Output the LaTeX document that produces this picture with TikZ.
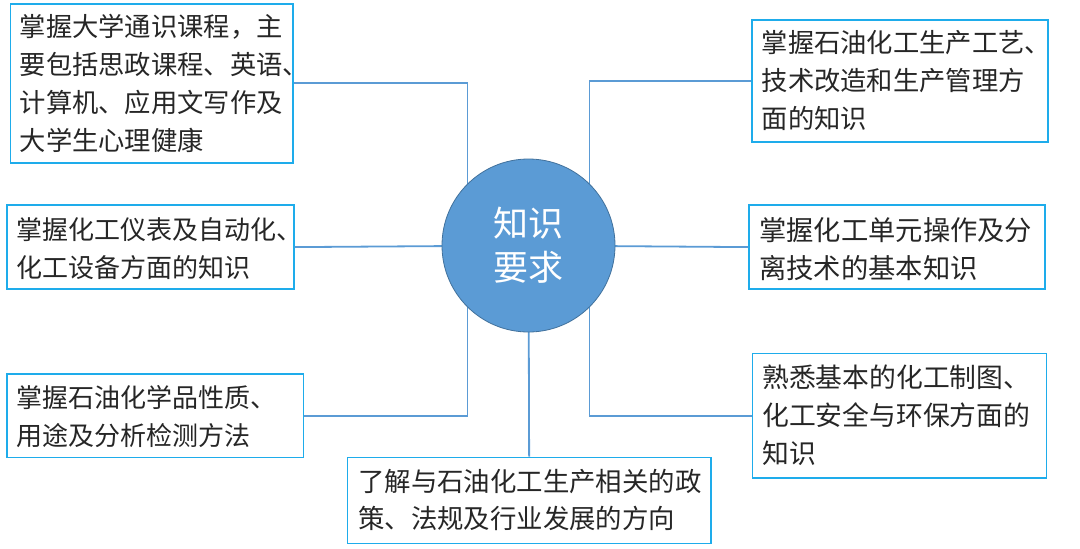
\documentclass[tikz,border=0pt]{standalone}
\usepackage{fontspec}
\setmainfont{Noto Sans CJK SC}
\definecolor{boxline}{RGB}{30,172,235}
\definecolor{conn}{RGB}{91,155,213}
\definecolor{cfill}{RGB}{91,155,213}
\definecolor{cedge}{RGB}{65,113,156}
\begin{document}
\begin{tikzpicture}[x=1pt,y=-1pt,
  box/.style={draw=boxline,line width=1.6pt,rectangle,inner sep=0pt,anchor=north west},
  txt/.style={anchor=north west,inner sep=0pt,align=left,text=black!85,font=\fontsize{26}{38}\selectfont},
  link/.style={draw=conn,line width=1.8pt}]
\useasboundingbox (0,0) rectangle (1080,549);
% boxes
\node[box,minimum width=282.5pt,minimum height=159pt] (tl) at (9.5,3) {};
\node[box,minimum width=287pt,minimum height=84pt] (ml) at (6,204.3) {};
\node[box,minimum width=296.7pt,minimum height=83.7pt] (bl) at (6,373) {};
\node[box,minimum width=363.3pt,minimum height=86pt] (bt) at (346.7,456.7) {};
\node[box,minimum width=296pt,minimum height=122pt] (tr) at (751,19) {};
\node[box,minimum width=295.7pt,minimum height=84pt] (mr) at (748.3,204.3) {};
\node[box,minimum width=294pt,minimum height=124.6pt] (br) at (751.7,352.7) {};
% texts
\node[txt,font=\fontsize{26.3}{38}\selectfont] (tlt) at (19.5,14) {掌握大学通识课程，主\\要包括思政课程、英语、\\计算机、应用文写作及\\大学生心理健康};
\node[txt] (mlt) at (16,217) {掌握化工仪表及自动化、\\化工设备方面的知识};
\node[txt] (blt) at (16,385.5) {掌握石油化学品性质、\\用途及分析检测方法};
\node[txt,font=\fontsize{26.4}{37}\selectfont] (btt) at (358,469) {了解与石油化工生产相关的政\\策、法规及行业发展的方向};
\node[txt,font=\fontsize{26.3}{38}\selectfont] (trt) at (761.5,30.5) {掌握石油化工生产工艺、\\技术改造和生产管理方\\面的知识};
\node[txt,font=\fontsize{27.3}{38}\selectfont] (mrt) at (759,217) {掌握化工单元操作及分\\离技术的基本知识};
\node[txt,font=\fontsize{26.8}{38}\selectfont] (brt) at (762,364.5) {熟悉基本的化工制图、\\化工安全与环保方面的\\知识};
% connectors
\coordinate (cl) at (467.5,245.5);
\coordinate (cr) at (589.5,245.5);
\coordinate (cc) at (528.5,245.5);
\draw[link] (tl.east) -| (cl);
\draw[link] (bl.east) -| (cl);
\draw[link] (tr.west) -| (cr);
\draw[link] (br.west) -| (cr);
\draw[link] (ml.east) -- (cc);
\draw[link] (mr.west) -- (cc);
\draw[link] (bt.north) -- (cc);
% centre circle
\node[circle,fill=cfill,draw=cedge,line width=0.8pt,minimum size=173pt,inner sep=0pt] (c) at (cc) {};
\node[text=white,align=center,inner sep=0pt,font=\fontsize{35}{44}\selectfont] (ct) at (c.center) {知识\\要求};
\end{tikzpicture}
\end{document}
